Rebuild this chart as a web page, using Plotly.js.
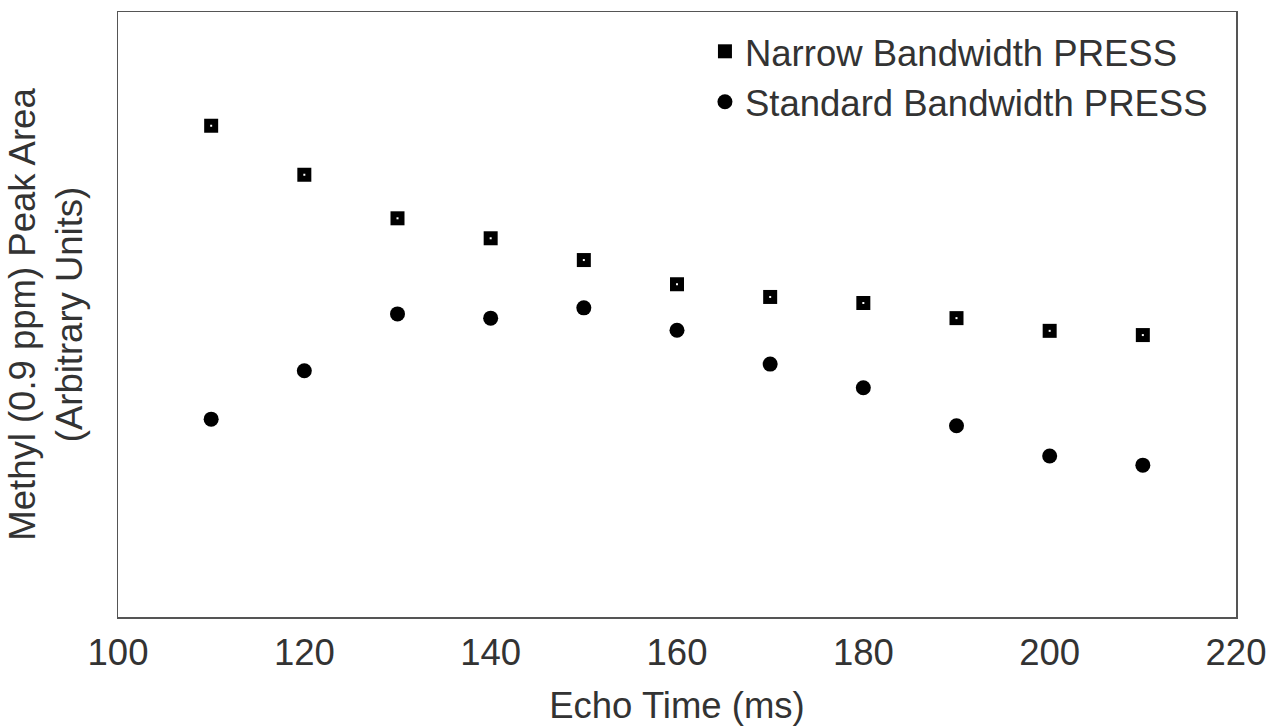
<!DOCTYPE html>
<html><head><meta charset="utf-8">
<script src="https://cdn.plot.ly/plotly-3.0.1.min.js"></script>
<style>body{margin:0;padding:0;background:#fff}#chart{width:1268px;height:727px}</style>
</head><body><div id="chart"></div>
<script>
const echoTime = [110,120,130,140,150,160,170,180,190,200,210];
const narrowPress = [81.2,73.1,65.9,62.6,59.0,55.0,52.9,51.9,49.4,47.3,46.6];
const standardPress = [32.7,40.7,50.1,49.4,51.1,47.4,41.8,37.9,31.6,26.6,25.1];
const seriesNames = ['Narrow Bandwidth PRESS','Standard Bandwidth PRESS'];

const txt = '#333333';
const fontFam = 'Arial, "Liberation Sans", sans-serif';
const fs = 36.5;
const traces = [
  {x: echoTime, y: narrowPress, name: seriesNames[0], mode:'markers', type:'scatter',
   legendgroup:'n',
   marker:{symbol:'square', size:14, color:'#000'}},
  {x: echoTime, y: narrowPress, name: seriesNames[0], mode:'markers', type:'scatter',
   legendgroup:'n', showlegend:false, hoverinfo:'skip',
   marker:{symbol:'square', size:2, color:'#fff'}},
  {x: echoTime, y: standardPress, name: seriesNames[1], mode:'markers', type:'scatter',
   marker:{symbol:'circle', size:15, color:'#000'}}
];
const layout = {
  width:1268, height:727,
  margin:{l:118, r:32, t:12, b:110},
  paper_bgcolor:'#fff', plot_bgcolor:'#fff',
  font:{family:fontFam, color:txt, size:fs},
  showlegend:true,
  legend:{x:0.525, y:0.985, xanchor:'left', yanchor:'top', bgcolor:'rgba(0,0,0,0)',
          font:{size:fs, color:txt}, itemsizing:'trace', tracegroupgap:0, itemwidth:30},
  xaxis:{range:[100,220], dtick:20, tick0:100, showgrid:false, zeroline:false,
         showline:true, mirror:true, linecolor:'#555', linewidth:1.5, ticks:'',
         tickfont:{size:fs, color:txt}, ticklabelstandoff:3,
         title:{text:'Echo Time (ms)', font:{size:fs, color:txt}, standoff:20}},
  yaxis:{range:[0,100], showgrid:false, zeroline:false, showticklabels:false,
         showline:true, mirror:true, linecolor:'#555', linewidth:1.5, ticks:'',
         title:{text:'Methyl (0.9 ppm) Peak Area<br>(Arbitrary Units)', font:{size:fs, color:txt}, standoff:22}}
};
Plotly.newPlot('chart', traces, layout, {displayModeBar:false, staticPlot:true});
</script></body></html>
